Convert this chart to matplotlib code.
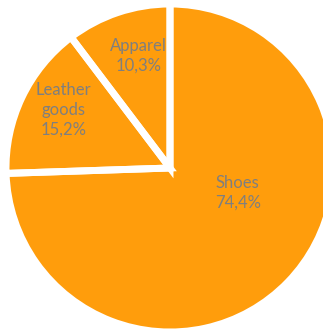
import matplotlib
matplotlib.use('Agg')
import matplotlib.pyplot as plt
import numpy as np

# data
categories = ['Shoes', 'Leather\ngoods', 'Apparel']
shares = [74.4, 15.2, 10.3]

# label placement (fraction of radius, angle shift in degrees from wedge middle)
label_r = [0.44, 0.74, 0.71]
label_shift = [24, -3, -3]

slice_color = '#FF9D0C'
text_color = '#7F7F7F'

fig = plt.figure(figsize=(3.23, 3.29), dpi=100)
W, H = 323, 329
cx, cy, r = 170, 168, 164
ax = fig.add_axes([(cx - r) / W, (H - cy - r) / H, 2 * r / W, 2 * r / H])

# filled wedges first
wedges, _ = ax.pie(shares, startangle=90, counterclock=False,
                   colors=[slice_color] * len(shares),
                   wedgeprops=dict(linewidth=0))

for w, cat, val, lr, sh in zip(wedges, categories, shares, label_r, label_shift):
    mid = np.deg2rad((w.theta1 + w.theta2) / 2 + sh)
    ax.text(lr * np.cos(mid), lr * np.sin(mid),
            f"{cat}\n{val:.1f}".replace('.', ',') + '%',
            ha='center', va='center', color=text_color,
            fontsize=12, family='Lato', linespacing=1.3, zorder=2)

# white separators on top of text
ax.pie(shares, startangle=90, counterclock=False,
       wedgeprops=dict(facecolor='none', edgecolor='white', linewidth=5,
                       joinstyle='miter', zorder=3))

ax.set_aspect('auto')
ax.set_xlim(-1, 1)
ax.set_ylim(-1, 1)
ax.axis('off')

fig.savefig('out.png', dpi=100)
